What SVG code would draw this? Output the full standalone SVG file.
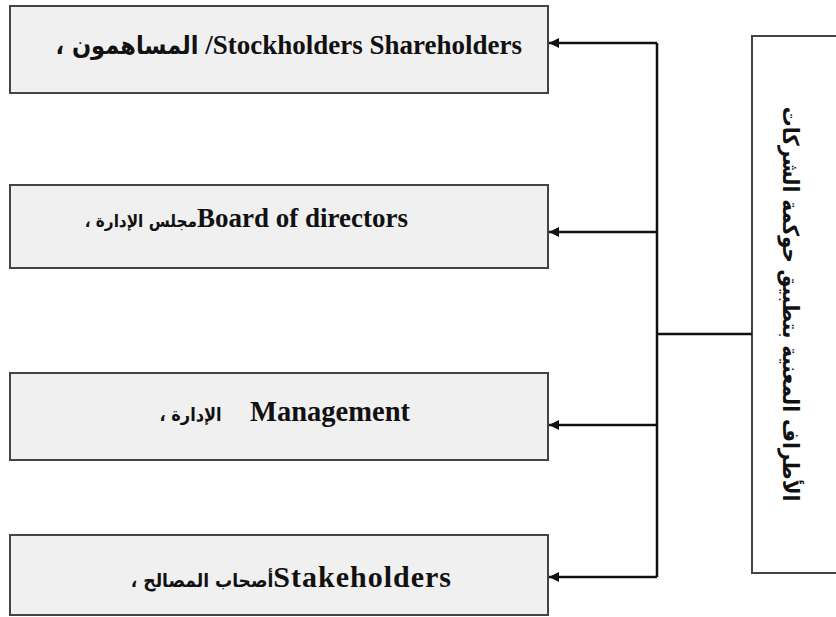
<svg xmlns="http://www.w3.org/2000/svg" width="836" height="617" viewBox="0 0 836 617">
  <style>
    .box { fill: #f0f0f0; stroke: #444; stroke-width: 2; }
    .root { fill: #ffffff; stroke: #444; stroke-width: 2; }
    .lbl { font-family: "Liberation Serif", "DejaVu Sans Condensed", "DejaVu Sans", serif; font-weight: bold; font-size: 27px; fill: #111; }
    .ar { font-family: "DejaVu Sans Condensed", "DejaVu Sans", sans-serif; font-weight: bold; }
    .vlbl { font-family: "DejaVu Sans Condensed", "DejaVu Sans", sans-serif; font-weight: bold; font-size: 22px; fill: #111; }
    .wire { fill: none; stroke: #111; stroke-width: 2.5; }
  </style>
  <defs>
    <marker id="arrow" viewBox="0 0 10 10" refX="10" refY="5" markerWidth="10" markerHeight="10" markerUnits="userSpaceOnUse" orient="auto">
      <path d="M0,0 L10,5 L0,10 z" fill="#111"/>
    </marker>
  </defs>

  <g id="node-root">
    <rect class="root" x="752" y="36" width="120" height="537"/>
    <text class="vlbl" transform="translate(790,304) rotate(90)" text-anchor="middle" dominant-baseline="central">الأطراف المعنية بتطبيق حوكمة الشركات</text>
  </g>

  <g id="node-shareholders">
    <rect class="box" x="10" y="6" width="538" height="87"/>
    <text class="lbl" x="522" y="54" text-anchor="end"><tspan class="ar" font-size="25">، المساهمون</tspan> /Stockholders Shareholders</text>
  </g>

  <g id="node-board">
    <rect class="box" x="10" y="185" width="538" height="83"/>
    <text class="lbl" x="408" y="227" text-anchor="end"><tspan class="ar" font-size="17">، مجلس الإدارة</tspan>Board of directors</text>
  </g>

  <g id="node-management">
    <rect class="box" x="10" y="373" width="538" height="87"/>
    <text class="lbl" x="410" y="421" text-anchor="end" style="font-size:28.5px"><tspan class="ar" font-size="18">، الإدارة</tspan>&#160;&#160;&#160;&#160;Management</text>
  </g>

  <g id="node-stakeholders">
    <rect class="box" x="10" y="535" width="538" height="80"/>
    <text class="lbl" x="452" y="587" text-anchor="end" style="font-size:30px"><tspan class="ar" font-size="19">، أصحاب المصالح</tspan><tspan letter-spacing="1">Stakeholders</tspan></text>
  </g>

  <g id="connectors">
    <path class="wire" d="M657,43 V577"/>
    <path class="wire" d="M657,334 H752"/>
    <path class="wire" d="M657,43 H549" marker-end="url(#arrow)"/>
    <path class="wire" d="M657,232 H549" marker-end="url(#arrow)"/>
    <path class="wire" d="M657,425 H549" marker-end="url(#arrow)"/>
    <path class="wire" d="M657,577 H549" marker-end="url(#arrow)"/>
  </g>
</svg>
